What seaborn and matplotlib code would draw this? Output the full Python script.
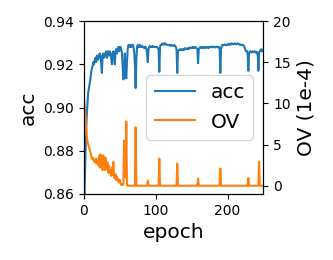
import matplotlib
matplotlib.use("Agg")
import numpy as np
import matplotlib.pyplot as plt
import seaborn as sns

# accuracy per epoch
acc = [
    0.780, 0.862, 0.877, 0.888, 0.897, 0.902, 0.907, 0.909, 0.911, 0.913,
    0.916, 0.918, 0.919, 0.921, 0.920, 0.922, 0.923, 0.921, 0.924, 0.922,
    0.924, 0.923, 0.925, 0.924, 0.921, 0.916, 0.924, 0.925, 0.923, 0.925,
    0.924, 0.926, 0.923, 0.925, 0.926, 0.924, 0.926, 0.925, 0.923, 0.920,
    0.925, 0.926, 0.924, 0.920, 0.926, 0.927, 0.925, 0.927, 0.928, 0.926,
    0.928, 0.928, 0.927, 0.925, 0.919, 0.913, 0.918, 0.925, 0.917, 0.9135,
    0.921, 0.927, 0.929, 0.929, 0.928, 0.929, 0.928, 0.929, 0.929, 0.928,
    0.926, 0.920, 0.909, 0.922, 0.928, 0.929, 0.928, 0.928, 0.929, 0.928,
    0.928, 0.9285, 0.928, 0.928, 0.9275, 0.928, 0.928, 0.927, 0.925, 0.921,
    0.927, 0.928, 0.9285, 0.928, 0.928, 0.928, 0.9285, 0.928, 0.928, 0.928,
    0.928, 0.928, 0.928, 0.9275, 0.927, 0.9165, 0.928, 0.929, 0.929, 0.9295,
    0.9295, 0.929, 0.9298, 0.9295, 0.9295, 0.929, 0.929, 0.929, 0.9288, 0.929,
    0.9288, 0.9285, 0.929, 0.9288, 0.9285, 0.9285, 0.9288, 0.9285, 0.928, 0.927,
    0.916, 0.926, 0.9265, 0.9268, 0.9265, 0.927, 0.9265, 0.9268, 0.927, 0.9265,
    0.927, 0.9275, 0.927, 0.9272, 0.927, 0.9275, 0.927, 0.9275, 0.9278, 0.9275,
    0.9275, 0.928, 0.9275, 0.9278, 0.928, 0.9275, 0.9278, 0.9275, 0.927, 0.9205,
    0.927, 0.9275, 0.928, 0.9275, 0.9278, 0.928, 0.9275, 0.9278, 0.928, 0.9275,
    0.9278, 0.928, 0.9278, 0.9275, 0.928, 0.9278, 0.928, 0.9282, 0.928, 0.9278,
    0.928, 0.9282, 0.928, 0.9278, 0.928, 0.9282, 0.928, 0.9278, 0.928, 0.9275,
    0.916, 0.927, 0.9285, 0.929, 0.9288, 0.929, 0.9292, 0.929, 0.9288, 0.929,
    0.9292, 0.929, 0.9295, 0.9292, 0.929, 0.9295, 0.9297, 0.9295, 0.9292, 0.9295,
    0.9297, 0.9295, 0.9292, 0.9295, 0.9297, 0.9295, 0.9292, 0.929, 0.9292, 0.929,
    0.9288, 0.929, 0.9288, 0.9285, 0.9275, 0.9265, 0.926, 0.9262, 0.9255, 0.917,
    0.925, 0.9258, 0.926, 0.9255, 0.9258, 0.926, 0.9255, 0.9258, 0.926, 0.9255,
    0.9258, 0.925, 0.9255, 0.917, 0.925, 0.926, 0.9265, 0.927, 0.926, 0.9265,
]

# OV per epoch, in units of 1e-4
ov = [
    10.9, 9.7, 8.5, 7.3, 6.0, 5.4, 5.0, 4.7, 4.4, 4.1,
    3.7, 3.4, 3.2, 3.4, 3.0, 3.1, 2.8, 3.3, 2.7, 3.0,
    2.5, 3.6, 2.2, 3.8, 2.4, 2.9, 1.9, 3.7, 2.6, 1.9,
    3.4, 2.3, 2.0, 2.8, 1.6, 2.4, 1.5, 1.9, 1.2, 2.2,
    1.3, 2.9, 1.0, 0.9, 1.4, 0.7, 1.1, 0.6, 0.8, 0.4,
    0.7, 0.3, 0.1, 0.2, 0.1, 0.2, 5.5, 5.3, 1.0, 7.8,
    0.1, 0.0, 0.0, 0.0, 0.0, 0.0, 0.0, 0.0, 0.0, 0.0,
    0.0, 0.0, 7.1, 0.0, 0.0, 0.0, 0.0, 0.0, 0.0, 0.0,
    0.0, 0.0, 0.0, 0.0, 0.0, 0.0, 0.0, 0.0, 0.0, 0.6,
    0.0, 0.0, 0.0, 0.0, 0.0, 0.0, 0.0, 0.0, 0.0, 0.0,
    0.0, 0.0, 0.0, 0.0, 0.0, 3.3, 0.0, 0.0, 0.0, 0.0,
    0.0, 0.0, 0.0, 0.0, 0.0, 0.0, 0.0, 0.0, 0.0, 0.0,
    0.0, 0.0, 0.0, 0.0, 0.0, 0.0, 0.0, 0.0, 0.0, 0.0,
    2.7, 0.0, 0.0, 0.0, 0.0, 0.0, 0.0, 0.0, 0.0, 0.0,
    0.0, 0.0, 0.0, 0.0, 0.0, 0.0, 0.0, 0.0, 0.0, 0.0,
    0.0, 0.0, 0.0, 0.0, 0.0, 0.0, 0.0, 0.0, 0.0, 0.85,
    0.0, 0.0, 0.0, 0.0, 0.0, 0.0, 0.0, 0.0, 0.0, 0.0,
    0.0, 0.0, 0.0, 0.0, 0.0, 0.0, 0.0, 0.0, 0.0, 0.0,
    0.0, 0.0, 0.0, 0.0, 0.0, 0.0, 0.0, 0.0, 0.0, 0.0,
    2.1, 0.0, 0.0, 0.0, 0.0, 0.0, 0.0, 0.0, 0.0, 0.0,
    0.0, 0.0, 0.0, 0.0, 0.0, 0.0, 0.0, 0.0, 0.0, 0.0,
    0.0, 0.0, 0.0, 0.0, 0.0, 0.0, 0.0, 0.0, 0.0, 0.0,
    0.0, 0.0, 0.0, 0.0, 0.0, 0.0, 0.0, 0.0, 0.0, 0.95,
    0.0, 0.0, 0.0, 0.0, 0.0, 0.0, 0.0, 0.0, 0.0, 0.0,
    0.0, 0.0, 0.0, 0.0, 2.9, 0.0, 0.0, 0.0, 0.0, 0.0,
]

epochs = np.arange(len(acc))

fig, ax1 = plt.subplots(figsize=(3.33, 2.6), dpi=100)
fig.subplots_adjust(left=0.252, right=0.791, top=0.919, bottom=0.254)

sns.lineplot(x=epochs, y=acc, ax=ax1, color="#1f77b4", linewidth=1.5, label="acc")
ax2 = ax1.twinx()
sns.lineplot(x=epochs, y=ov, ax=ax2, color="#ff7f0e", linewidth=1.5, label="OV")

ax1.set_xlim(0, 250)
ax1.set_ylim(0.86, 0.94)
ax1.set_yticks([0.86, 0.88, 0.90, 0.92, 0.94])
ax1.set_xticks([0, 100, 200])
ax2.set_ylim(-1, 20)
ax2.set_yticks([0, 5, 10, 15, 20])

ax1.set_xlabel("epoch", fontsize=14.5)
ax1.set_ylabel("acc", fontsize=14.5)
ax2.set_ylabel("OV (1e-4)", fontsize=14.5)
ax1.tick_params(labelsize=10)
ax2.tick_params(labelsize=10)

# one legend for both lines
h1, l1 = ax1.get_legend_handles_labels()
h2, l2 = ax2.get_legend_handles_labels()
ax1.get_legend().remove()
ax2.get_legend().remove()
ax2.legend(h1 + h2, l1 + l2, loc="center right", fontsize=14.5)

fig.savefig("out.png", dpi=100)
